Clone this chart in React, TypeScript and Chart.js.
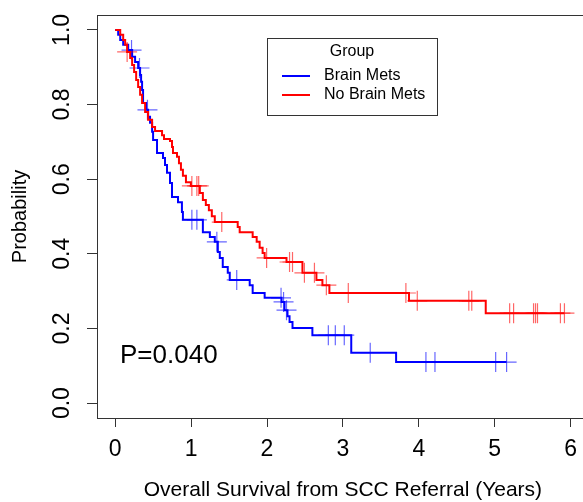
import React, { useEffect, useRef } from 'react';
import { Chart, registerables } from 'chart.js';

Chart.register(...registerables);

const FONT = "'Liberation Sans', Arial, Helvetica, sans-serif";

const GROUPS = ['Brain Mets', 'No Brain Mets'];
const COLORS = ['#0000ff', '#ff0000'];
const CENSOR_COLORS = ['rgba(0,0,255,0.6)', 'rgba(255,0,0,0.6)'];

const X_TICKS = [0, 1, 2, 3, 4, 5, 6];
const Y_TICKS = [0, 0.2, 0.4, 0.6, 0.8, 1.0];

const X_TITLE = 'Overall Survival from SCC Referral (Years)';
const Y_TITLE = 'Probability';
const LEGEND_TITLE = 'Group';
const P_TEXT = 'P=0.040';

// Brain Mets (blue): event times and survival after each event
const BLUE_TIMES = [0, 0.039, 0.066, 0.105, 0.171, 0.223, 0.262, 0.302, 0.328, 0.341, 0.354, 0.367, 0.407, 0.433, 0.459, 0.486, 0.499, 0.551, 0.630, 0.656, 0.682, 0.722, 0.748, 0.827, 0.879, 0.892, 1.155, 1.247, 1.312, 1.352, 1.378, 1.417, 1.483, 1.509, 1.772, 1.811, 1.969, 2.192, 2.231, 2.270, 2.297, 2.336, 2.598, 3.110, 3.701];
const BLUE_SURV = [1, 0.987, 0.973, 0.960, 0.946, 0.928, 0.914, 0.898, 0.879, 0.861, 0.839, 0.804, 0.786, 0.767, 0.751, 0.727, 0.705, 0.670, 0.657, 0.638, 0.617, 0.590, 0.552, 0.538, 0.512, 0.491, 0.458, 0.445, 0.432, 0.405, 0.389, 0.365, 0.349, 0.330, 0.316, 0.295, 0.282, 0.271, 0.249, 0.233, 0.217, 0.201, 0.182, 0.135, 0.110];
const BLUE_END = 5.157;
const BLUE_CENSOR = [0.215, 0.32, 0.425, 1.010, 1.076, 1.339, 1.601, 2.185, 2.218, 2.257, 2.808, 2.900, 3.018, 3.360, 4.094, 4.213, 5.013, 5.157];

// No Brain Mets (red)
const RED_TIMES = [0, 0.066, 0.105, 0.131, 0.157, 0.197, 0.223, 0.249, 0.276, 0.302, 0.328, 0.354, 0.394, 0.433, 0.486, 0.525, 0.617, 0.643, 0.722, 0.748, 0.761, 0.814, 0.840, 0.866, 0.892, 0.932, 0.997, 1.115, 1.155, 1.194, 1.234, 1.273, 1.312, 1.614, 1.640, 1.811, 1.864, 1.903, 1.942, 1.969, 2.257, 2.467, 2.651, 2.730, 2.822, 3.871, 4.882];
const RED_SURV = [1, 0.987, 0.973, 0.960, 0.941, 0.925, 0.906, 0.887, 0.866, 0.847, 0.826, 0.804, 0.780, 0.759, 0.740, 0.729, 0.718, 0.708, 0.702, 0.686, 0.670, 0.660, 0.643, 0.625, 0.609, 0.592, 0.582, 0.563, 0.544, 0.531, 0.517, 0.501, 0.485, 0.472, 0.458, 0.445, 0.432, 0.416, 0.402, 0.389, 0.378, 0.349, 0.330, 0.316, 0.295, 0.274, 0.241];
const RED_END = 5.919;
const RED_CENSOR = [0.157, 1.010, 1.076, 1.10, 1.404, 1.995, 2.297, 2.336, 2.493, 2.625, 2.782, 3.071, 3.83, 3.98, 4.659, 4.698, 5.197, 5.249, 5.512, 5.538, 5.564, 5.866, 5.919];

function stepAt(times: number[], surv: number[], t: number) {
  let v = surv[0];
  for (let i = 0; i < times.length; i++) if (times[i] <= t) v = surv[i];
  return v;
}

function curve(times: number[], surv: number[], end: number) {
  const pts = times.map((t, i) => ({ x: t, y: surv[i] }));
  pts.push({ x: end, y: surv[surv.length - 1] });
  return pts;
}

function censors(times: number[], surv: number[], cens: number[]) {
  return cens.map((t) => ({ x: t, y: stepAt(times, surv, t) }));
}

const overlay = {
  id: 'overlay',
  afterDraw(chart: any) {
    const { ctx, chartArea } = chart;
    ctx.save();
    // plot box
    ctx.strokeStyle = '#333';
    ctx.lineWidth = 1;
    ctx.strokeRect(Math.round(chartArea.left) + 0.5, Math.round(chartArea.top) + 0.5, chartArea.right - chartArea.left, chartArea.bottom - chartArea.top);

    // p-value
    ctx.fillStyle = '#000';
    ctx.font = `26px ${FONT}`;
    ctx.textAlign = 'left';
    ctx.textBaseline = 'middle';
    ctx.fillText(P_TEXT, 120, 356);

    // legend
    ctx.strokeStyle = '#333';
    ctx.lineWidth = 1;
    ctx.strokeRect(267.5, 38.5, 170, 77);
    ctx.font = `16px ${FONT}`;
    ctx.textAlign = 'center';
    ctx.fillText(LEGEND_TITLE, 352, 52);
    const rows = [76, 95];
    GROUPS.forEach((g, i) => {
      ctx.strokeStyle = COLORS[i];
      ctx.lineWidth = 2;
      ctx.beginPath();
      ctx.moveTo(282, rows[i]);
      ctx.lineTo(310, rows[i]);
      ctx.stroke();
      ctx.textAlign = 'left';
      ctx.fillStyle = '#000';
      ctx.fillText(g, 324, rows[i]);
    });
    ctx.restore();
  },
};

export default function App() {
  const ref = useRef<HTMLCanvasElement>(null);
  useEffect(() => {
    if (!ref.current) return;
    const chart = new Chart(ref.current, {
      type: 'line',
      data: {
        datasets: [
          {
            label: GROUPS[1],
            data: curve(RED_TIMES, RED_SURV, RED_END),
            borderColor: COLORS[1],
            borderWidth: 2,
            pointRadius: 0,
            stepped: 'before',
            fill: false,
          } as any,
          {
            type: 'scatter',
            label: GROUPS[1] + ' censored',
            data: censors(RED_TIMES, RED_SURV, RED_CENSOR),
            pointStyle: 'cross',
            pointRadius: 10,
            borderColor: CENSOR_COLORS[1],
            borderWidth: 1.2,
            showLine: false,
          } as any,
          {
            label: GROUPS[0],
            data: curve(BLUE_TIMES, BLUE_SURV, BLUE_END),
            borderColor: COLORS[0],
            borderWidth: 2,
            pointRadius: 0,
            stepped: 'before',
            fill: false,
          } as any,
          {
            type: 'scatter',
            label: GROUPS[0] + ' censored',
            data: censors(BLUE_TIMES, BLUE_SURV, BLUE_CENSOR),
            pointStyle: 'cross',
            pointRadius: 10,
            borderColor: CENSOR_COLORS[0],
            borderWidth: 1.2,
            showLine: false,
          } as any,
        ],
      },
      options: {
        animation: false,
        responsive: false,
        events: [],
        layout: { padding: { top: 15, right: 9, left: 0, bottom: 0 } },
        plugins: { legend: { display: false }, tooltip: { enabled: false } },
        scales: {
          x: {
            type: 'linear',
            min: -0.24,
            max: 6.24,
            afterBuildTicks: (s: any) => {
              s.ticks = X_TICKS.map((v) => ({ value: v }));
            },
            afterFit: (s: any) => {
              s.height = 84;
              s.paddingLeft = 0;
              s.paddingRight = 0;
            },
            ticks: {
              autoSkip: false,
              maxRotation: 0,
              minRotation: 0,
              padding: 9,
              color: '#000',
              font: { family: FONT, size: 23 },
              callback: (v: any) => String(v),
            },
            grid: { drawOnChartArea: false, drawTicks: true, tickLength: 9, color: '#333', lineWidth: 1 },
            border: { display: true, color: '#333', width: 1 },
            title: {
              display: true,
              text: X_TITLE,
              color: '#000',
              font: { family: FONT, size: 21, lineHeight: 1 },
              padding: { top: 0, bottom: 1 },
            },
          },
          y: {
            type: 'linear',
            min: -0.04,
            max: 1.04,
            afterBuildTicks: (s: any) => {
              s.ticks = Y_TICKS.map((v) => ({ value: v }));
            },
            afterFit: (s: any) => {
              s.width = 97;
              s.paddingTop = 0;
              s.paddingBottom = 0;
            },
            ticks: {
              autoSkip: false,
              minRotation: 90,
              maxRotation: 90,
              crossAlign: 'center',
              padding: 8,
              color: '#000',
              font: { family: FONT, size: 23 },
              callback: (v: any) => Number(v).toFixed(1),
            },
            grid: { drawOnChartArea: false, drawTicks: true, tickLength: 10, color: '#333', lineWidth: 1 },
            border: { display: true, color: '#333', width: 1 },
            title: {
              display: true,
              text: Y_TITLE,
              color: '#000',
              font: { family: FONT, size: 20, lineHeight: 1.2 },
              padding: { top: 8, bottom: 0 },
            },
          },
        },
      },
      plugins: [overlay],
    } as any);
    return () => chart.destroy();
  }, []);

  return (
    <div style={{ position: 'absolute', left: 0, top: 0, width: 583, height: 502, overflow: 'hidden', background: '#fff' }}>
      <canvas ref={ref} width={600} height={502} style={{ display: 'block' }} />
    </div>
  );
}
